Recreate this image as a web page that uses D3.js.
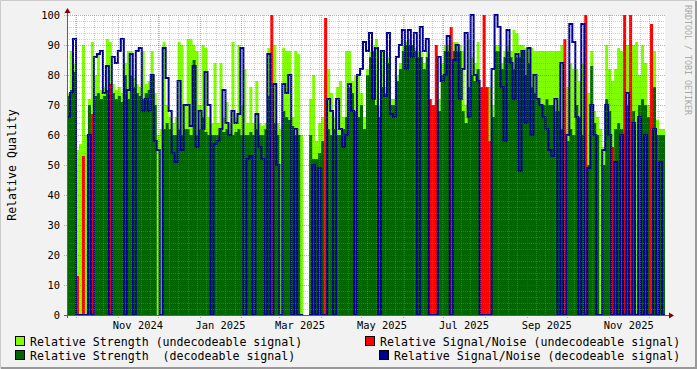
<!DOCTYPE html>
<html><head><meta charset="utf-8">
<script src="https://cdn.jsdelivr.net/npm/d3@7"></script>
<style>
html,body{margin:0;padding:0;background:#f2f2f2;}
svg{display:block;font-family:"DejaVu Sans Mono",monospace;}
text{white-space:pre;}
</style>
</head><body>
<svg id="chart" width="697" height="369"></svg>
<script>
// ---------------- data ----------------
const startTime = new Date(2024, 8, 24, 7);
const endTime = new Date(2025, 11, 12, 22);
const yTicks = [0,10,20,30,40,50,60,70,80,90,100];
const monthLabels = ["Nov 2024","Jan 2025","Mar 2025","May 2025","Jul 2025","Sep 2025","Nov 2025"];
const yTitle = "Relative Quality";
const sideText = "RRDTOOL / TOBI OETIKER";
const legendNames = [
  "Relative Strength (undecodeable signal)",
  "Relative Signal/Noise (undecodeable signal)",
  "Relative Strength  (decodeable signal)",
  "Relative Signal/Noise (decodeable signal)"
];
// Relative Strength (undecodeable signal)
const strengthUndecodeable = [
 74,88,84,55,57,90,60,72,91,80,
 87,75,76,92,91,77,75,76,74,84,
 88,88,79,77,76,88,77,78,88,74,
 60,62,91,70,66,64,66,91,90,70,
 92,92,90,88,70,90,89,66,64,84,
 64,84,66,71,64,91,66,90,70,82,
 64,76,64,78,64,63,64,89,70,90,
 64,62,89,88,88,66,88,87,60,null,
 null,72,80,58,64,66,80,82,74,66,
 76,78,66,88,88,78,80,80,74,66,
 82,88,90,92,70,88,76,86,72,72,
 80,84,90,91,92,90,89,88,88,84,
 88,70,70,70,72,84,90,90,80,91,
 91,90,88,70,92,86,84,91,76,76,
 76,76,70,90,90,84,88,90,88,95,
 94,90,90,89,89,89,88,88,88,88,
 88,88,88,88,88,90,60,76,84,82,
 82,78,84,84,74,88,68,66,62,56,
 90,82,78,82,89,88,91,90,88,90,
 91,80,90,84,70,70,88,65,62,62
];
// Relative Strength (decodeable signal)
const strengthDecodeable = [
 73,75,81,0,0,0,0,70,0,73,
 74,72,73,75,76,74,72,73,71,80,
 72,80,76,74,73,72,74,75,80,70,
 0,0,62,64,62,60,60,62,60,62,
 62,60,85,60,62,66,61,60,60,60,
 60,62,61,62,60,60,61,62,60,60,
 60,61,60,62,60,60,62,73,0,64,
 60,0,68,66,65,63,60,60,0,null,
 null,60,52,52,54,58,0,62,60,62,
 60,60,62,66,76,74,68,66,70,62,
 80,86,88,70,66,76,74,84,70,70,
 78,82,88,90,90,90,88,86,86,82,
 86,0,0,0,68,80,88,88,0,88,
 88,88,68,64,76,80,78,82,0,0,
 0,0,66,88,88,82,86,88,86,82,
 86,86,88,80,84,76,74,72,70,70,
 72,70,70,68,68,62,0,58,62,60,
 70,66,60,0,50,83,64,60,0,50,
 72,68,0,62,64,62,0,70,0,68,
 0,70,72,70,66,0,76,60,60,60
];
// Relative Signal/Noise (undecodeable signal)
const snrUndecodeable = [
 0,0,0,13,0,53,0,0,67,0,
 0,0,0,0,77,0,0,0,0,0,
 0,0,0,0,0,0,0,0,0,0,
 0,0,0,0,0,0,0,0,0,0,
 0,0,0,0,0,0,0,0,0,0,
 0,0,0,0,0,0,0,0,0,0,
 0,0,0,0,0,0,0,0,100,0,
 0,0,0,0,0,0,0,0,0,null,
 null,0,0,0,0,0,99,0,0,0,
 0,0,0,0,0,0,0,0,0,0,
 0,0,0,0,0,0,0,0,0,0,
 0,0,0,0,0,0,0,0,0,0,
 0,72,70,90,0,0,0,0,96,0,
 0,0,0,0,0,0,0,0,76,100,
 76,58,0,0,0,0,0,0,0,0,
 0,0,0,0,0,0,0,0,0,0,
 0,0,0,0,0,0,92,0,0,0,
 0,0,0,100,0,0,0,0,0,0,
 0,0,56,0,0,0,100,0,100,0,
 0,48,0,0,0,97,0,0,0,0
];
// Relative Signal/Noise (decodeable signal)
const snrDecodeable = [
 66,74,92,0,0,0,0,60,0,86,
 87,88,74,83,0,86,84,88,92,0,
 75,87,0,88,89,68,72,68,80,58,
 55,0,89,79,68,54,51,78,55,70,
 70,63,83,56,68,62,81,70,0,57,
 58,62,75,64,60,68,64,67,89,0,
 52,53,0,67,56,52,0,87,0,77,
 50,0,77,74,80,0,62,0,0,null,
 null,0,50,0,49,0,0,72,68,0,
 72,62,56,60,77,68,0,80,82,91,
 88,94,72,89,0,88,73,94,67,66,
 86,90,95,82,95,86,94,0,96,88,
 92,0,0,0,86,78,80,93,0,85,
 90,72,82,94,66,100,80,78,0,0,
 0,0,82,100,96,76,58,95,84,72,
 87,48,88,64,89,60,80,72,70,66,
 62,55,53,72,0,84,0,60,97,91,
 66,0,97,0,49,70,60,0,0,55,
 70,60,0,51,0,60,0,74,0,64,
 0,66,0,60,0,0,62,0,51,0
];

// ---------------- layout ----------------
const W = 697, H = 369;
const L = 67, R = 665, T = 15, B = 315;
const colors = {lg:"#80ff00", dg:"#006600", red:"#ff0000", blue:"#000090"};

const svg = d3.select("#chart");
svg.append("rect").attr("width",W).attr("height",H).attr("fill","#f2f2f2");
// shade frame
svg.append("path").attr("d",`M0.5,${H-0.5}V0.5H${W-0.5}`).attr("fill","none").attr("stroke","#cbcbcb");
svg.append("path").attr("d",`M1,${H-1}H${W-1}V1`).attr("fill","none").attr("stroke","#999999").attr("stroke-width",2);

const x = d3.scaleTime().domain([startTime,endTime]).range([L,R]);
const y = d3.scaleLinear().domain([0,100]).range([B,T]);

svg.append("rect").attr("x",L).attr("y",T).attr("width",R-L).attr("height",B-T).attr("fill","#ffffff");

const N = strengthDecodeable.length;
const times = d3.range(N+1).map(i => new Date(+startTime + i*(endTime-startTime)/N));

function stepPoints(vals){
  const pts=[];
  vals.forEach((v,i)=>{
    if(v==null){pts.push({t:times[i],v:null});pts.push({t:times[i+1],v:null});return;}
    pts.push({t:times[i],v:v},{t:times[i+1],v:v});
  });
  return pts;
}
const area = d3.area().defined(d=>d.v!=null).x(d=>x(d.t)).y0(y(0)).y1(d=>y(d.v));
const line = d3.line().defined(d=>d.v!=null).x(d=>x(d.t)).y(d=>y(d.v));

const g = svg.append("g");
g.append("path").attr("d",area(stepPoints(strengthUndecodeable))).attr("fill",colors.lg);
g.append("path").attr("d",area(stepPoints(strengthDecodeable))).attr("fill",colors.dg);
g.append("path").attr("d",area(stepPoints(snrUndecodeable))).attr("fill",colors.red);
g.append("path").attr("d",line(stepPoints(snrDecodeable))).attr("fill","none")
  .attr("stroke",colors.blue).attr("stroke-width",2).attr("stroke-linejoin","miter");

// ---------------- grid (drawn over data, rrdtool-like) ----------------
const grid = svg.append("g").attr("fill","none");
const minorCol = "rgba(140,140,140,0.4)", majorCol = "rgba(200,40,40,0.45)";
const minorY = d3.range(2,100,2).filter(v=>v%10!==0);
minorY.forEach(v=>{
  const yy=Math.round(y(v))+0.5;
  grid.append("line").attr("x1",L).attr("x2",R).attr("y1",yy).attr("y2",yy)
    .attr("stroke",minorCol).attr("stroke-dasharray","1,1");
});
const months = d3.timeMonth.range(startTime,endTime);
const weeks = d3.timeMonday.range(startTime,endTime).filter(d=>d.getDate()!==1);
weeks.forEach(d=>{
  const xx=Math.round(x(d))+0.5;
  grid.append("line").attr("x1",xx).attr("x2",xx).attr("y1",T).attr("y2",B)
    .attr("stroke",minorCol).attr("stroke-dasharray","1,1");
});
yTicks.forEach(v=>{
  const yy=Math.round(y(v))+0.5;
  grid.append("line").attr("x1",L-3).attr("x2",R).attr("y1",yy).attr("y2",yy)
    .attr("stroke",majorCol).attr("stroke-dasharray","1,1");
});
months.forEach(d=>{
  const xx=Math.round(x(d))+0.5;
  grid.append("line").attr("x1",xx).attr("x2",xx).attr("y1",T).attr("y2",B+3)
    .attr("stroke",majorCol).attr("stroke-dasharray","1,1");
});

// ---------------- axes ----------------
svg.append("line").attr("x1",L-3).attr("x2",R+6).attr("y1",B+0.5).attr("y2",B+0.5).attr("stroke","#606060");
svg.append("line").attr("x1",L+0.5).attr("x2",L+0.5).attr("y1",B+3).attr("y2",T-5).attr("stroke","#606060");
svg.append("path").attr("d",`M${L+0.5-3},${T-2}L${L+0.5+3},${T-2}L${L+0.5},${T-7}Z`).attr("fill","#7f0000");
svg.append("path").attr("d",`M${R+4},${B+0.5-3}L${R+4},${B+0.5+3}L${R+9},${B+0.5}Z`).attr("fill","#7f0000");

// y tick labels
svg.append("g").selectAll("text").data(yTicks).join("text")
  .attr("x",60).attr("y",d=>y(d)+3.7).attr("text-anchor","end")
  .attr("font-size","10.4px").attr("fill","#000").text(d=>d);

// x labels (centered on month interval)
const parseMonth = d3.timeParse("%b %Y");
svg.append("g").selectAll("text").data(monthLabels).join("text")
  .attr("x",d=>{const m=parseMonth(d);const n=d3.timeMonth.offset(m,1);return (x(m)+x(n))/2;})
  .attr("y",329).attr("text-anchor","middle").attr("font-size","10.4px").attr("fill","#000").text(d=>d);

// y title
svg.append("text").attr("transform","translate(16,165) rotate(-90)").attr("text-anchor","middle")
  .attr("font-size","11.6px").attr("fill","#000").text(yTitle);
// side text
svg.append("text").attr("transform","translate(685,5) rotate(90)").attr("text-anchor","start")
  .attr("font-size","8.3px").attr("fill","#aaaaaa").text(sideText);

// ---------------- legend ----------------
const legend = [
  {name:legendNames[0],color:colors.lg,bx:15,tx:30,row:0},
  {name:legendNames[1],color:colors.red,bx:365,tx:380,row:0},
  {name:legendNames[2],color:colors.dg,bx:15,tx:30,row:1},
  {name:legendNames[3],color:colors.blue,bx:379,tx:394,row:1}
];
const lg = svg.append("g");
legend.forEach(e=>{
  const yy = 336 + e.row*14;
  lg.append("rect").attr("x",e.bx+0.5).attr("y",yy+0.5).attr("width",9).attr("height",9)
    .attr("fill",e.color).attr("stroke","#000");
  lg.append("text").attr("x",e.tx).attr("y",yy+10).attr("font-size","11.6px").attr("fill","#000").text(e.name);
});
</script>
</body></html>
